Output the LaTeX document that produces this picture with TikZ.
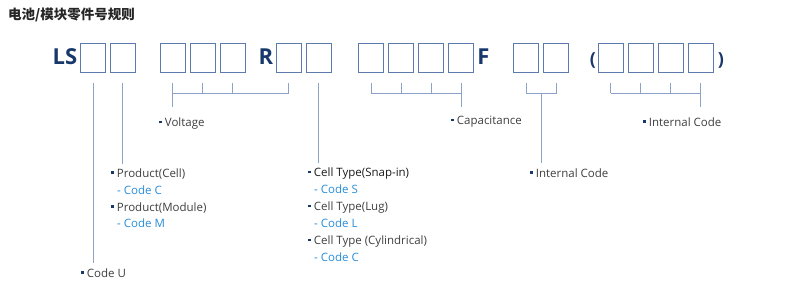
\documentclass[tikz,border=0pt]{standalone}
\usepackage{fontspec}
\setmainfont{Open Sans}
\newfontfamily\cjkfont{Noto Sans CJK SC}
\usetikzlibrary{positioning, calc}
\definecolor{CodeNavy}{RGB}{24, 56, 108}
\definecolor{BoxBlue}{RGB}{92, 122, 172}
\definecolor{LineBlue}{RGB}{140, 162, 198}
\definecolor{TextGray}{RGB}{62, 62, 62}
\definecolor{CodeBlue}{RGB}{40, 140, 215}
\newcommand{\bul}{\textcolor{CodeNavy}{\raisebox{0.6ex}{\rule{2.3pt}{2.3pt}}}\hspace{3.4pt}}

\begin{document}
\begin{tikzpicture}[x=1pt, y=-1pt,
  cell/.style={draw=BoxBlue, line width=0.8pt, minimum width=25pt, minimum height=29pt, inner sep=0pt},
  lett/.style={font=\bfseries\fontsize{22}{22}\selectfont, text=CodeNavy, inner sep=0pt},
  par/.style={lett, font=\bfseries\fontsize{18}{18}\selectfont},
  lab/.style={anchor=west, inner sep=1pt, font=\fontsize{11.5}{13}\selectfont, text=TextGray},
  code/.style={lab, text=CodeBlue},
  ln/.style={LineBlue, line width=0.8pt}]
\useasboundingbox (0, 0) rectangle (800, 298);
\node[anchor=west, inner sep=0pt, font=\cjkfont\bfseries\fontsize{13.5}{13.5}\selectfont, text=black!85] (title) at (8, 15) {电池/模块零件号规则};
% code row
\node[lett] (ls) at (65, 56.5) {LS};
\node[cell] (b1) at (93, 57.5) {}; \node[cell] (b2) at (122.5, 57.5) {};
\node[cell] (v1) at (172.5, 57.5) {}; \node[cell] (v2) at (202.5, 57.5) {}; \node[cell] (v3) at (232.5, 57.5) {};
\node[lett] (r) at (266, 56.5) {R};
\node[cell] (v4) at (288.5, 57.5) {}; \node[cell] (t1) at (318.5, 57.5) {};
\node[cell] (c1) at (371, 57.5) {}; \node[cell] (c2) at (401, 57.5) {}; \node[cell] (c3) at (431, 57.5) {}; \node[cell] (c4) at (461, 57.5) {};
\node[lett] (f) at (483.5, 56.5) {F};
\node[cell] (i1) at (526, 57.5) {}; \node[cell] (i2) at (556, 57.5) {};
\node[par] (lp) at (593, 60) {(};
\node[cell] (n1) at (610.5, 57.5) {}; \node[cell] (n2) at (640.5, 57.5) {}; \node[cell] (n3) at (670.5, 57.5) {}; \node[cell] (n4) at (700.5, 57.5) {};
\node[par] (rp) at (721, 60) {)};
% labels
\node[lab] (lu) at (80, 273) {\bul Code U};
\node[lab] (lc1) at (110, 174) {\bul Product(Cell)};
\node[code] (lc1c) at (116, 190) {- Code C};
\node[lab] (lc2) at (110, 208) {\bul Product(Module)};
\node[code] (lc2c) at (116, 223) {- Code M};
\node[lab] (lv) at (158, 124) {\bul Voltage};
\node[lab, text=black!90] (lt1) at (307, 174) {\bul Cell Type(Snap-in)};
\node[code] (lt1c) at (313, 189) {- Code S};
\node[lab] (lt2) at (307, 208) {\bul Cell Type(Lug)};
\node[code] (lt2c) at (313, 223) {- Code L};
\node[lab] (lt3) at (307, 242) {\bul Cell Type (Cylindrical)};
\node[code] (lt3c) at (313, 257) {- Code C};
\node[lab] (lcap) at (450, 122) {\bul Capacitance};
\node[lab] (li1) at (529, 173) {\bul Internal Code};
\node[lab] (li2) at (642, 122) {\bul Internal Code};
% connectors
\coordinate (vj) at ([yshift=-21pt]v1.south);
\coordinate (cj) at ([yshift=-21pt]c4.south);
\coordinate (ij) at ([yshift=-21pt]$(i1.south)!0.5!(i2.south)$);
\coordinate (nj) at ([yshift=-21pt]n4.south);
\draw[ln] ([yshift=-11pt]b1.south) -- ([yshift=4pt]b1.south |- lu.north);
\draw[ln] ([yshift=-11pt]b2.south) -- ([yshift=4pt]b2.south |- lc1.north);
\draw[ln] ([yshift=-11pt]v1.south) -- ([yshift=-35pt]v1.south);
\draw[ln] (vj) -- (vj -| v4.south);
\draw[ln] ([yshift=-11pt]v2.south) -- (vj -| v2.south); \draw[ln] ([yshift=-11pt]v3.south) -- (vj -| v3.south); \draw[ln] ([yshift=-11pt]v4.south) -- (vj -| v4.south);
\draw[ln] ([yshift=-11pt]t1.south) -- ([yshift=4pt]t1.south |- lt1.north);
\draw[ln] (cj -| c1.south) -- (cj);
\draw[ln] ([yshift=-11pt]c1.south) -- (cj -| c1.south); \draw[ln] ([yshift=-11pt]c2.south) -- (cj -| c2.south); \draw[ln] ([yshift=-11pt]c3.south) -- (cj -| c3.south);
\draw[ln] ([yshift=-11pt]c4.south) -- ([yshift=-35pt]c4.south);
\draw[ln] ([yshift=-11pt]i1.south) -- (ij -| i1.south) -- (ij -| i2.south) -- ([yshift=-11pt]i2.south);
\draw[ln] (ij) -- ([yshift=4pt]ij |- li1.north);
\draw[ln] (nj -| n1.south) -- (nj);
\draw[ln] ([yshift=-11pt]n1.south) -- (nj -| n1.south); \draw[ln] ([yshift=-11pt]n2.south) -- (nj -| n2.south); \draw[ln] ([yshift=-11pt]n3.south) -- (nj -| n3.south);
\draw[ln] ([yshift=-11pt]n4.south) -- ([yshift=-35pt]n4.south);
\end{tikzpicture}
\end{document}
